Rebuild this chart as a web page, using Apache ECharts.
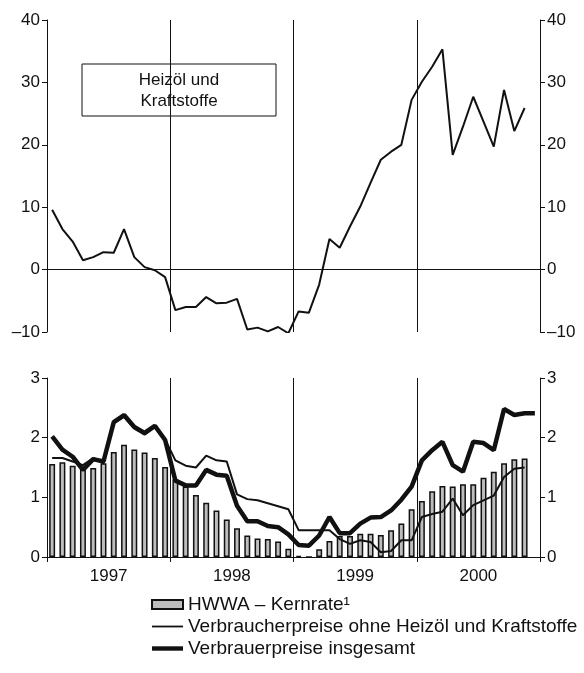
<!DOCTYPE html>
<html>
<head>
<meta charset="utf-8">
<script src="https://cdn.jsdelivr.net/npm/echarts@6/dist/echarts.min.js"></script>
<style>
  html, body { margin: 0; padding: 0; background: #fff; }
  #chart { width: 584px; height: 673px; }
</style>
</head>
<body>
<div id="chart"></div>
<script>
// categories
const years = ['1997', '1998', '1999', '2000'];
const monthNames = ['Jan', 'Feb', 'Mär', 'Apr', 'Mai', 'Jun', 'Jul', 'Aug', 'Sep', 'Okt', 'Nov', 'Dez'];
const months = [];
years.forEach(y => monthNames.forEach(m => months.push(m + ' ' + y)));

// upper panel: Heizöl und Kraftstoffe (Jan 1997 - Nov 2000)
const heizoel = [
  9.6, 6.5, 4.5, 1.5, 2.0, 2.8, 2.7, 6.5, 2.0, 0.4, -0.1, -1.2,
  -6.5, -6.0, -6.0, -4.4, -5.4, -5.3, -4.7, -9.6, -9.3, -9.9, -9.2, -10.2,
  -6.7, -6.9, -2.4, 4.9, 3.5, 6.9, 10.1, 13.9, 17.6, 18.9, 20.0, 27.2,
  30.1, 32.5, 35.3, 18.4, 22.9, 27.7, 23.7, 19.7, 28.8, 22.2, 25.9
];

// lower panel
const kernrate = [
  1.56, 1.59, 1.53, 1.47, 1.49, 1.57, 1.76, 1.88, 1.80, 1.75, 1.66, 1.51,
  1.30, 1.18, 1.04, 0.91, 0.78, 0.63, 0.48, 0.36, 0.31, 0.30, 0.26, 0.14,
  0.02, 0, 0.13, 0.27, 0.35, 0.35, 0.39, 0.39, 0.37, 0.45, 0.56, 0.80,
  0.94, 1.10, 1.19, 1.18, 1.22, 1.22, 1.33, 1.43, 1.57, 1.64, 1.65
];
const ohneHeizoel = [
  1.66, 1.66, 1.60, 1.54, 1.66, 1.57, 2.24, 2.35, 2.15, 2.05, 2.17, 1.97,
  1.62, 1.53, 1.50, 1.70, 1.62, 1.60, 1.05, 0.97, 0.95, 0.90, 0.85, 0.80,
  0.45, 0.45, 0.45, 0.45, 0.30, 0.22, 0.28, 0.25, 0.08, 0.10, 0.28, 0.28,
  0.67, 0.72, 0.76, 0.98, 0.70, 0.87, 0.95, 1.03, 1.34, 1.48, 1.50
];
const insgesamt = [
  2.02, 1.80, 1.68, 1.46, 1.64, 1.60, 2.26, 2.38, 2.18, 2.08, 2.20, 1.96,
  1.28, 1.20, 1.20, 1.46, 1.38, 1.36, 0.86, 0.60, 0.60, 0.52, 0.50, 0.38,
  0.20, 0.19, 0.36, 0.67, 0.40, 0.40, 0.56, 0.66, 0.67, 0.78, 0.96, 1.18,
  1.62, 1.79, 1.93, 1.54, 1.43, 1.93, 1.91, 1.79, 2.48, 2.38, 2.41, 2.41
];

const font = 'Liberation Sans, Arial, sans-serif';
const black = '#111';

const chart = echarts.init(document.getElementById('chart'), null, { renderer: 'canvas' });

function yAxes(gridIndex, min, max, interval) {
  const base = {
    type: 'value', gridIndex: gridIndex, min: min, max: max, interval: interval,
    axisLine: { show: true, lineStyle: { color: black, width: 1 } },
    axisTick: { show: true, length: 5, lineStyle: { color: black } },
    axisLabel: {
      color: black, fontSize: 17, fontFamily: font, margin: 7,
      formatter: v => String(v).replace('-', '–')
    },
    splitLine: { show: false }
  };
  return [
    Object.assign({}, base, { position: 'left' }),
    Object.assign({}, base, { position: 'right' })
  ];
}

chart.setOption({
  animation: false,
  backgroundColor: '#fff',
  textStyle: { fontFamily: font },
  grid: [
    { left: 47, top: 20, width: 493, height: 312 },
    { left: 47, top: 378, width: 493, height: 179 }
  ],
  xAxis: [
    // upper panel: months (hidden) + years (zero line and dividers)
    { type: 'category', gridIndex: 0, data: months, show: false },
    {
      type: 'category', gridIndex: 0, data: years,
      axisLine: { show: true, onZero: true, lineStyle: { color: black, width: 1 } },
      axisTick: { show: false }, axisLabel: { show: false },
      splitLine: { show: true, lineStyle: { color: black, width: 1 } }
    },
    // lower panel
    { type: 'category', gridIndex: 1, data: months, show: false },
    {
      type: 'category', gridIndex: 1, data: years, position: 'bottom',
      axisLine: { show: true, lineStyle: { color: black, width: 1 } },
      axisTick: { show: true, length: 5, lineStyle: { color: black } },
      axisLabel: { color: black, fontSize: 17, fontFamily: font, margin: 11 },
      splitLine: { show: true, lineStyle: { color: black, width: 1 } }
    }
  ],
  yAxis: yAxes(0, -10, 40, 10).concat(yAxes(1, 0, 3, 1)),
  legend: {
    orient: 'vertical', left: 151, top: 595,
    itemWidth: 31, itemHeight: 9, itemGap: 3, padding: 0,
    textStyle: { fontSize: 19, lineHeight: 18, fontFamily: font, color: black },
    data: [
      { name: 'HWWA – Kernrate¹', icon: 'rect' },
      { name: 'Verbraucherpreise ohne Heizöl und Kraftstoffe',
        icon: 'path://M0,0 M31,9 M0,3.6 L31,3.6 L31,5.4 L0,5.4 Z' },
      { name: 'Verbrauerpreise insgesamt',
        icon: 'path://M0,0 M31,9 M0,2.3 L31,2.3 L31,6.7 L0,6.7 Z' }
    ]
  },
  graphic: [
    {
      type: 'rect', x: 82, y: 64,
      shape: { width: 194, height: 52 },
      style: { fill: '#fff', stroke: black, lineWidth: 1 }
    },
    {
      type: 'text', x: 179, y: 70,
      style: {
        text: 'Heizöl und\nKraftstoffe',
        fill: black, font: '17px ' + font, align: 'center', lineHeight: 21
      }
    }
  ],
  series: [
    {
      name: 'Heizöl und Kraftstoffe', type: 'line',
      xAxisIndex: 0, yAxisIndex: 0, data: heizoel,
      symbol: 'none', lineStyle: { color: black, width: 2 }, z: 5
    },
    {
      name: 'HWWA – Kernrate¹', type: 'bar',
      xAxisIndex: 2, yAxisIndex: 2, data: kernrate, barWidth: '58%',
      itemStyle: { color: '#bdbdbd', borderColor: black, borderWidth: 1.5 }
    },
    {
      name: 'Verbraucherpreise ohne Heizöl und Kraftstoffe', type: 'line',
      xAxisIndex: 2, yAxisIndex: 2, data: ohneHeizoel,
      symbol: 'none', itemStyle: { color: black },
      lineStyle: { color: black, width: 2 }, z: 4
    },
    {
      name: 'Verbrauerpreise insgesamt', type: 'line',
      xAxisIndex: 2, yAxisIndex: 2, data: insgesamt,
      symbol: 'none', itemStyle: { color: black },
      lineStyle: { color: black, width: 4.5 }, z: 3
    }
  ]
});
</script>
</body>
</html>
